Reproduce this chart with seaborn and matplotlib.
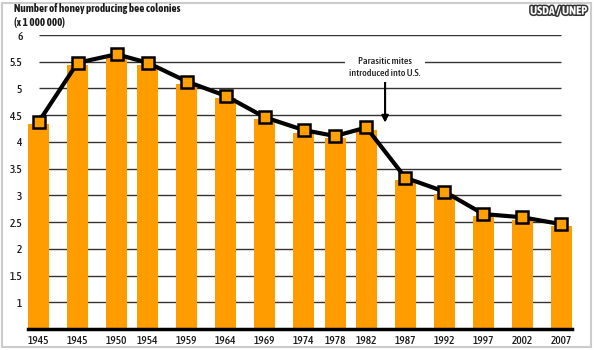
import matplotlib
matplotlib.use("Agg")
import matplotlib.pyplot as plt
import matplotlib.patheffects as pe
from matplotlib.patches import Rectangle
from matplotlib import font_manager
import seaborn as sns
import pandas as pd

# ---- data ----
x_pos = [1940, 1945, 1950, 1954, 1959, 1964, 1969, 1974, 1978, 1982, 1987, 1992, 1997, 2002, 2007]
tick_labels = ["1945", "1945", "1950", "1954", "1959", "1964", "1969", "1974",
               "1978", "1982", "1987", "1992", "1997", "2002", "2007"]
bar_values = [4.33, 5.44, 5.59, 5.43, 5.09, 4.82, 4.43, 4.17, 4.07, 4.23, 3.28, 3.02, 2.61, 2.54, 2.43]
line_values = [4.37, 5.48, 5.64, 5.48, 5.13, 4.86, 4.46, 4.22, 4.11, 4.27, 3.33, 3.07, 2.65, 2.59, 2.46]
y_ticks = [1, 1.5, 2, 2.5, 3, 3.5, 4, 4.5, 5, 5.5, 6]
y_tick_labels = ["1", "1.5", "2", "2.5", "3", "3.5", "4", "4.5", "5", "5.5", "6"]
title_lines = ["Number of honey producing bee colonies", "(x 1 000 000)"]
source = "USDA / UNEP"
annotation = "Parasitic mites\nintroduced into U.S."
annot_year = 1984.4
annot_value = 4.36

df = pd.DataFrame({"pos": x_pos, "bars": bar_values, "line": line_values})

sns.set_style("white")

# pick a narrow family (with both regular and bold faces) if one is installed
weights = {}
for f in font_manager.fontManager.ttflist:
    n = f.name.lower()
    if "narrow" in n or "condensed" in n:
        w = f.weight if isinstance(f.weight, int) else font_manager.weight_dict.get(str(f.weight), 400)
        weights.setdefault(f.name, set()).add(w)
narrow = None
best = -1
for name, ws in weights.items():
    score = 0
    if any(350 <= w <= 500 for w in ws):
        score += 2
    if any(w >= 600 for w in ws):
        score += 2
    if "light" in name.lower() or "thin" in name.lower():
        score -= 3
    if score > best:
        best, narrow = score, name
families = [narrow, "Roboto", "DejaVu Sans"] if narrow else ["Roboto", "DejaVu Sans"]
plt.rcParams["font.family"] = families

tick_fs = 8.2 if narrow else 7.5
annot_fs = 7.2 if narrow else 6.6
title_fs = 7.9 if narrow else 7.4

fig = plt.figure(figsize=(5.95, 3.5), dpi=100)
ax = fig.add_axes([28 / 595, 21 / 350, (572 - 28) / 595, (329 - 35) / 350])

ORANGE = "#FF9C00"

# gridlines behind bars
for yv in y_ticks:
    ax.hlines(yv, x_pos[0], x_pos[-1], color="#333333", lw=1.0, zorder=0)

sns.barplot(data=df, x="pos", y="bars", native_scale=True, width=0.675,
            color=ORANGE, saturation=1, edgecolor="none", ax=ax, zorder=2)
sns.lineplot(data=df, x="pos", y="line", color="black", lw=3, marker="s",
             markersize=8.5, markerfacecolor="#FFA000", markeredgecolor="black",
             markeredgewidth=1.8, ax=ax, zorder=4)

ax.set_xlim(x_pos[0] - 1.35, x_pos[-1] + 1.35)
ax.set_ylim(0.5, 6.0)
ax.set_xticks(x_pos)
ax.set_xticklabels(tick_labels, fontsize=tick_fs, fontweight="medium")
ax.set_yticks(y_ticks)
ax.set_yticklabels(y_tick_labels, fontsize=tick_fs, fontweight="medium")
ax.tick_params(axis="both", length=0, pad=4, colors="#1a1a1a")
ax.set_xlabel("")
ax.set_ylabel("")
for s in ["top", "right", "left"]:
    ax.spines[s].set_visible(False)
ax.spines["bottom"].set_color("black")
ax.spines["bottom"].set_linewidth(2.5)
ax.spines["bottom"].set_zorder(5)

ax.annotate(annotation, xy=(annot_year, annot_value), xytext=(annot_year, 5.2),
            ha="center", va="bottom", fontsize=annot_fs, fontweight="medium",
            color="#1a1a1a", linespacing=1.45,
            bbox=dict(boxstyle="square,pad=0.4", fc="white", ec="none"),
            arrowprops=dict(arrowstyle="-|>", color="black", lw=1.5,
                            mutation_scale=10, shrinkA=0, shrinkB=0),
            zorder=6)

fig.text(14 / 595, 1 - 9 / 350, title_lines[0], fontsize=title_fs, fontweight="bold",
         color="#1a1a1a", va="center", ha="left")
fig.text(14 / 595, 1 - 22 / 350, title_lines[1], fontsize=title_fs, fontweight="bold",
         color="#1a1a1a", va="center", ha="left")
fig.text(587 / 595, 1 - 11 / 350, source, fontsize=8.6, fontweight="bold",
         color="white", va="center", ha="right",
         path_effects=[pe.withStroke(linewidth=2.2, foreground="#333333")])

fig.patches.append(Rectangle((2 / 595, 3 / 350), 589 / 595, 344 / 350,
                             transform=fig.transFigure, fill=False,
                             ec="#CCCCCC", lw=1.5))

fig.savefig("out.png", dpi=100)
